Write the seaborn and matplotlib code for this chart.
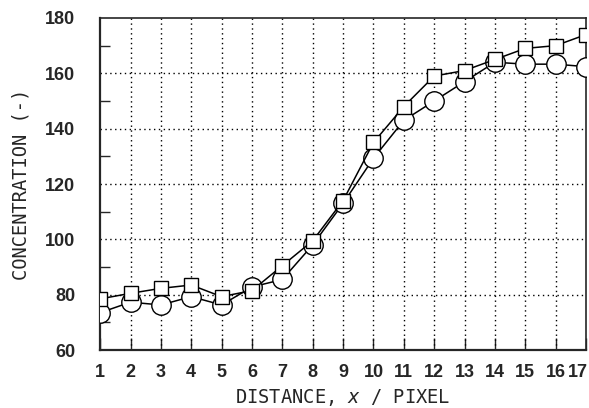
import numpy as np
import pandas as pd
import matplotlib
matplotlib.use("Agg")
import matplotlib.pyplot as plt
import matplotlib.transforms as mtransforms
import seaborn as sns

# =========================
# DATA
# =========================

distance = list(range(1, 18))
conc_square = [78.5, 80.5, 82.3, 83.5, 79.3, 81.5, 90.5, 99.5, 114, 135, 148, 159, 161, 165, 169, 170, 174]
conc_circle = [73.5, 77.3, 76.3, 79.3, 76.3, 82.8, 85.5, 98, 113, 129.3, 143, 150, 157, 164, 163.3, 163.3, 162.4]

y_ticks = [60, 80, 100, 120, 140, 160, 180]

# =========================
# STYLE
# =========================

sns.set_style("ticks")
plt.rcParams["font.family"] = ["Liberation Sans", "DejaVu Sans"]

fig = plt.figure(figsize=(5.89, 4.08), dpi=100)
ax = fig.add_axes([0.170, 0.142, 0.825, 0.814])

# =========================
# PLOT
# =========================

sns.lineplot(
    x=distance, y=conc_circle, ax=ax,
    color="black", lw=1.1, marker="o", markersize=14,
    markerfacecolor="white", markeredgecolor="black", markeredgewidth=1.0,
    zorder=3
)

sns.lineplot(
    x=distance, y=conc_square, ax=ax,
    color="black", lw=1.1, marker="s", markersize=10,
    markerfacecolor="white", markeredgecolor="black", markeredgewidth=1.0,
    zorder=4
)

ax.set_xlim(1, 17)
ax.set_ylim(60, 180)
ax.set_xticks(distance)
ax.set_yticks(y_ticks)
ax.set_yticks(range(70, 180, 20), minor=True)

# dotted grid lines at inner ticks
for xv in distance[1:-1]:
    ax.axvline(xv, color="black", ls=(0, (1, 2.5)), lw=1.0, zorder=1)
for yv in y_ticks[1:-1]:
    ax.axhline(yv, color="black", ls=(0, (1, 2.5)), lw=1.0, zorder=1)

ax.tick_params(axis="both", which="major", direction="in", length=9, width=1.0,
               labelsize=13, pad=6)
ax.tick_params(axis="x", which="major", pad=10)
ax.tick_params(axis="y", which="minor", direction="in", length=7, width=1.0)
ax.tick_params(axis="y", which="major", length=0, pad=18)
for lab in ax.get_xticklabels() + ax.get_yticklabels():
    lab.set_fontweight("bold")

# nudge the last x label left so it stays inside the figure
last = ax.get_xticklabels()[-1]
last.set_transform(last.get_transform() +
                   mtransforms.ScaledTranslation(-6 / 72, 0, fig.dpi_scale_trans))

for side in ["left", "bottom"]:
    ax.spines[side].set_linewidth(1.6)
for side in ["top", "right"]:
    ax.spines[side].set_linewidth(1.2)

ax.set_xlabel("DISTANCE, $x$ / PIXEL", fontsize=13.5, family=["DejaVu Sans Mono"],
              labelpad=4)
ax.set_ylabel("CONCENTRATION (-)", fontsize=13.5, family=["DejaVu Sans Mono"],
              labelpad=10)

plt.savefig("out.png", dpi=100)
